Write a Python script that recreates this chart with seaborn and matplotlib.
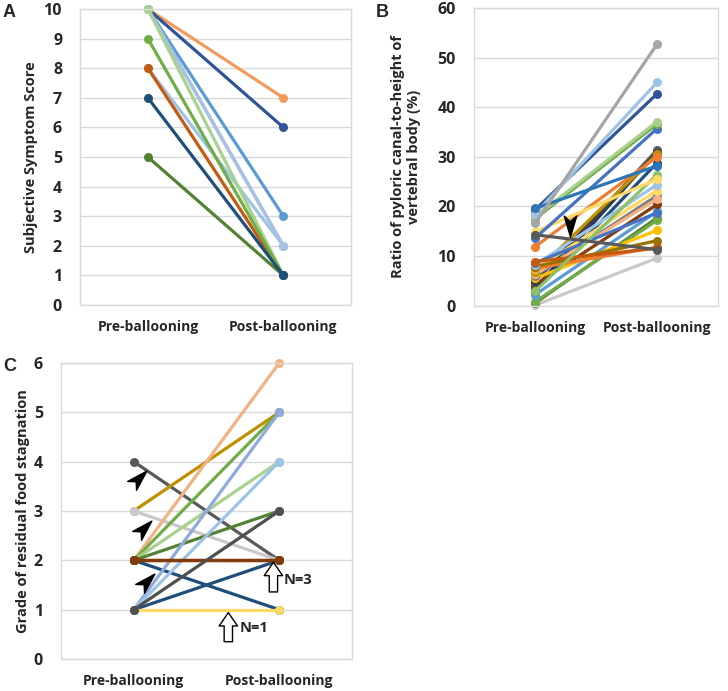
import numpy as np
import pandas as pd
import matplotlib
matplotlib.use("Agg")
import matplotlib.pyplot as plt
import seaborn as sns
from matplotlib.path import Path
from matplotlib.markers import MarkerStyle
from matplotlib.transforms import Affine2D

stages = ["Pre-ballooning", "Post-ballooning"]

# A - subjective symptom score per patient
pre_a = [10, 10, 10, 10, 8, 8, 10, 10, 9, 5, 7]
post_a = [7, 6, 3, 2, 2, 1, 2, 1, 1, 1, 1]
col_a = ["#F39B5B", "#2F5597", "#5B9BD5", "#99A8D0", "#9DC3E6", "#C55A11",
         "#A9C1E3", "#A9D18E", "#70AD47", "#548235", "#1F4E79"]

# B - ratio of pyloric canal to vertebral body height (%)
pre_b = [0.1, 0.5, 0.8, 2.2, 3.0, 3.5, 4.2, 4.8, 5.0, 5.5, 6.0, 6.3, 6.7, 7.3,
         7.5, 7.9, 8.2, 8.6, 8.9, 2.9, 11.9, 14.9, 13.6, 17.5, 17.9, 19.3,
         18.5, 19.6, 16.6, 14.3]
post_b = [9.6, 17.7, 17.2, 19.0, 28.8, 31.0, 20.4, 31.4, 30.8, 15.2, 22.2,
          21.5, 30.5, 23.2, 11.8, 13.1, 24.4, 18.7, 11.6, 26.4, 30.0, 25.5,
          35.7, 36.6, 37.1, 42.7, 45.0, 28.2, 52.7, 11.3]
col_b = ["#C9C9C9", "#548235", "#70AD47", "#5B9BD5", "#1F4E79", "#203864",
         "#843C0C", "#595959", "#404040", "#FFC000", "#7F7F7F", "#F4B183",
         "#BF9000", "#FFD966", "#ED7D31", "#997300", "#9DC3E6", "#4472C4",
         "#C55A11", "#8CC168", "#ED7D31", "#FFD966", "#4472C4", "#70AD47",
         "#A9D18E", "#2F5597", "#9DC3E6", "#2E75B6", "#A5A5A5", "#595959"]

# C - grade of residual food stagnation
pre_c = [4, 3, 3, 2, 2, 2, 2, 2, 1, 1, 1, 1, 2, 2, 2, 1]
post_c = [2, 5, 2, 6, 5, 4, 3, 1, 5, 4, 2, 1, 2, 2, 2, 3]
col_c = ["#595959", "#BF9000", "#C9C9C9", "#F4B183", "#70AD47", "#A9D18E",
         "#548235", "#1F4E79", "#8FAADC", "#9DC3E6", "#1F4E79", "#FFD966",
         "#843C0C", "#843C0C", "#843C0C", "#505050"]

sns.set_theme(style="whitegrid")
plt.rcParams["font.family"] = ["Open Sans", "DejaVu Sans"]
plt.rcParams["font.weight"] = "bold"

fig = plt.figure(figsize=(7.28, 6.91), dpi=100)
ax_a = fig.add_axes([0.110, 0.5586, 0.3723, 0.4284])
ax_b = fig.add_axes([0.6511, 0.5576, 0.3352, 0.4308])
ax_c = fig.add_axes([0.0838, 0.0463, 0.3997, 0.4284])


def long_table(pre, post):
    n = len(pre)
    return pd.DataFrame({"subject": list(range(n)) * 2,
                         "stage": [0] * n + [1] * n,
                         "value": list(pre) + list(post)})


def paired(ax, pre, post, colors, top, step, ylabel, pad=10):
    df = long_table(pre, post)
    pal = dict(enumerate(colors))
    sns.lineplot(data=df, x="stage", y="value", hue="subject", palette=pal,
                 marker="o", markersize=6.5, markeredgewidth=0, linewidth=2.3,
                 legend=False, errorbar=None, sort=False, clip_on=False, ax=ax)
    ax.set_xlim(-0.5, 1.5)
    ax.set_ylim(0, top)
    ax.set_yticks(np.arange(0, top + step / 2, step))
    ax.set_xticks([0, 1])
    ax.set_xticklabels(stages)
    ax.set_xlabel("")
    ax.set_ylabel(ylabel, fontsize=10.5, fontweight="bold", labelpad=pad)
    ax.grid(axis="x", visible=False)
    ax.grid(axis="y", color="#D9D9D9", lw=1)
    for s in ax.spines.values():
        s.set_color("#D9D9D9")
        s.set_linewidth(1)
    ax.tick_params(axis="y", length=0, pad=13, labelsize=11.5)
    ax.tick_params(axis="x", length=0, pad=11, labelsize=10)
    for t in ax.get_xticklabels() + ax.get_yticklabels():
        t.set_fontweight("bold")


paired(ax_a, pre_a, post_a, col_a, 10, 1, "Subjective Symptom Score", pad=4)
paired(ax_b, pre_b, post_b, col_b, 60, 10,
       "Ratio of pyloric canal-to-height of\nvertebral body (%)", pad=12)
paired(ax_c, pre_c, post_c, col_c, 6, 1, "Grade of residual food stagnation", pad=3)

# stealth arrowheads
stealth = Path([(0, 1), (0.6, -1), (0, -0.45), (-0.6, -1), (0, 1)],
               [Path.MOVETO, Path.LINETO, Path.LINETO, Path.LINETO, Path.CLOSEPOLY])


def arrowhead(ax, x, y, angle, size=15):
    m = MarkerStyle(stealth, transform=Affine2D().rotate_deg(angle))
    ax.plot([x], [y], marker=m, markersize=size, color="black",
            linestyle="none", clip_on=False, zorder=5)


arrowhead(ax_b, 0.286, 16.1, 180)
for ax_x, ax_y in [(0.038, 3.66), (0.072, 2.65), (0.092, 1.58)]:
    arrowhead(ax_c, ax_x, ax_y, -45)

# open block arrows with counts
for tip, tail, label, tx, ty in [((0.96, 1.96), (0.96, 1.36), "N=3", 1.03, 1.6),
                                 ((0.65, 0.94), (0.65, 0.35), "N=1", 0.73, 0.63)]:
    ax_c.annotate("", xy=tip, xytext=tail,
                  arrowprops=dict(arrowstyle="simple,head_length=0.8,head_width=1.1,tail_width=0.5",
                                  fc="white", ec="black", lw=1, shrinkA=0, shrinkB=0),
                  zorder=6)
    ax_c.text(tx, ty, label, fontsize=10.5, fontweight="bold", va="center", ha="left")

for lbl, x, y in [("A", 3, 4), ("B", 376, 4), ("C", 3, 358)]:
    fig.text(x / 728, 1 - y / 691, lbl, fontsize=13, fontweight="bold",
             family="Liberation Sans", va="top", ha="left")

fig.savefig("out.png", dpi=100)
